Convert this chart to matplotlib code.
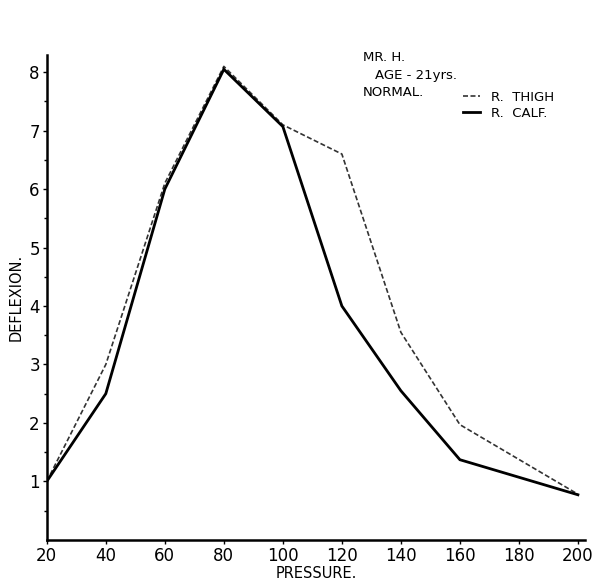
import matplotlib
matplotlib.use("Agg")
import matplotlib.pyplot as plt
from matplotlib.ticker import FixedLocator

pressure = [20, 40, 60, 80, 100, 120, 140, 160, 200]
thigh = [1.0, 3.0, 6.1, 8.1, 7.1, 6.6, 3.55, 1.97, 0.78]
calf = [1.0, 2.5, 6.0, 8.05, 7.07, 4.0, 2.55, 1.37, 0.77]
xticks = [20, 40, 60, 80, 100, 120, 140, 160, 180, 200]
yticks = [1, 2, 3, 4, 5, 6, 7, 8]

fig = plt.figure(figsize=(6, 5.88), dpi=100)
ax = fig.add_axes([0.078, 0.082, 0.897, 0.824])

ax.plot(pressure, thigh, color="#333333", lw=1.2, ls=(0, (3, 1.5)), label="R.  THIGH")
ax.plot(pressure, calf, color="black", lw=2.0, solid_joinstyle="miter", label="R.  CALF.")

ax.set_xlim(20, 202.4)
ax.set_ylim(0, 8.29)
ax.set_xticks(xticks)
ax.set_yticks(yticks)
ax.yaxis.set_minor_locator(FixedLocator([0.5 + i for i in range(8)]))
ax.tick_params(axis="both", labelsize=12, length=3, width=1.0, pad=2, direction="out")
ax.tick_params(axis="y", which="minor", length=2, width=1.0)
ax.spines["top"].set_visible(False)
ax.spines["right"].set_visible(False)
ax.spines["left"].set_linewidth(1.8)
ax.spines["bottom"].set_linewidth(1.8)

ax.set_xlabel("PRESSURE.", fontsize=10.5, labelpad=1)
ax.set_ylabel("DEFLEXION.", fontsize=10.5, labelpad=4)

fig.text(0.605, 0.903, "MR. H.", fontsize=9.5, va="center")
fig.text(0.625, 0.872, "AGE - 21yrs.", fontsize=9.5, va="center")
fig.text(0.605, 0.842, "NORMAL.", fontsize=9.5, va="center")

leg = fig.legend(loc="upper left", bbox_to_anchor=(0.772, 0.846), frameon=False,
                 fontsize=9.5, handlelength=1.3, handletextpad=0.8, labelspacing=0.25,
                 borderpad=0, borderaxespad=0)

fig.savefig("out.png", dpi=100, facecolor="white")
